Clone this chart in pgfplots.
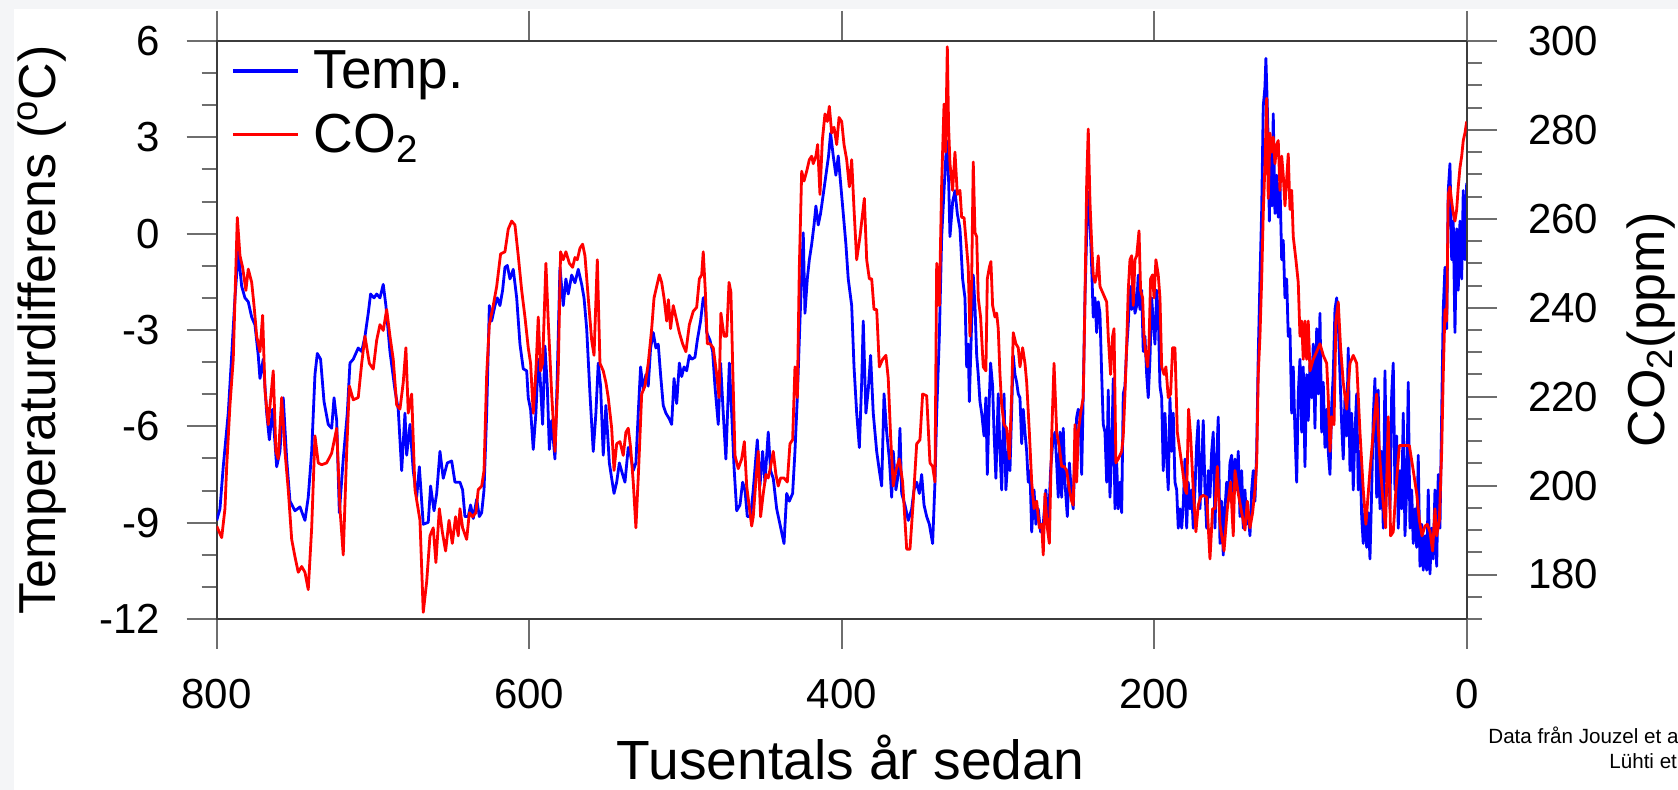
\documentclass[border=0pt]{standalone}
\usepackage{fontspec}
\setmainfont{Liberation Sans}
\usepackage{pgfplots}
\pgfplotsset{compat=1.18}
\definecolor{bggray}{RGB}{244,245,247}
\definecolor{axgray}{RGB}{60,60,60}
\definecolor{tkgray}{RGB}{110,110,110}
\begin{document}
\begin{tikzpicture}
\useasboundingbox (0pt,0pt) rectangle (839pt,395pt);
\fill[bggray] (0pt,0pt) rectangle (839pt,395pt);
\fill[white] (7pt,0pt) rectangle (839pt,390.5pt);
\pgfplotsset{
  common/.style={
    at={(108.35pt,85.5pt)}, anchor=south west,
    scale only axis, width=625pt, height=289pt,
    xmin=0, xmax=800, x dir=reverse,
    tick align=outside,
    major tick length=15pt, minor tick length=7.5pt,
    axis line style={axgray, line width=1pt},
    tick style={tkgray, line width=1pt},
    minor tick style={tkgray, line width=1pt},
    tick label style={font=\fontsize{21}{25}\selectfont},
    /pgf/number format/assume math mode=true,
  }
}
\begin{axis}[common,
  ymin=-12, ymax=6,
  xtick={0,200,400,600,800}, xticklabels={0,200,400,600,800},
  ytick={-12,-9,-6,-3,0,3,6}, yticklabels={-12,-9,-6,-3,0,3,6},
  minor ytick={-12,-11,...,6},
  ytick pos=left, xtick pos=both,
  xticklabel style={anchor=north, inner sep=0pt},
  xticklabel shift=15pt,
  yticklabel style={anchor=east, inner sep=0pt},
  yticklabel shift=13pt,
  xlabel={Tusentals år sedan},
  ylabel={Temperaturdifferens (\textsuperscript{o}C)},
  xlabel style={at={(axis description cs:0.507,-0.278)}, anchor=base, font=\fontsize{27.6}{32}\selectfont},
  ylabel style={at={(axis description cs:-0.1286,0.5)}, anchor=base, font=\fontsize{26}{31}\selectfont},
]
\addplot[blue, line width=1.4pt, line join=round] table {
yr T
800.0 -8.93
797.9 -8.57
795.8 -7.26
792.6 -5.59
790.4 -3.79
788.3 -2.00
786.2 -0.57
784.0 -1.64
781.9 -2.00
779.8 -2.12
777.6 -2.60
775.5 -2.84
773.4 -3.79
772.3 -4.51
770.2 -3.91
768.0 -5.59
766.3 -6.42
764.2 -5.47
761.6 -7.26
759.5 -6.78
757.4 -5.11
755.2 -7.02
753.1 -8.33
749.9 -8.63
746.7 -8.51
743.5 -8.93
741.4 -8.21
739.2 -6.78
737.1 -4.39
735.6 -3.73
733.5 -3.91
731.3 -5.23
728.6 -5.94
726.4 -6.06
724.9 -5.11
723.2 -5.82
721.5 -8.69
719.0 -7.02
716.4 -5.59
714.7 -4.03
712.6 -3.91
709.4 -3.56
707.2 -3.67
705.1 -3.20
703.0 -2.48
701.5 -1.88
699.3 -2.00
697.6 -1.88
695.5 -2.00
693.4 -1.58
691.7 -2.24
689.1 -3.67
685.9 -4.87
683.8 -5.47
681.6 -7.38
679.5 -5.59
678.4 -6.90
676.3 -5.94
674.2 -7.38
672.0 -8.21
670.3 -7.26
667.8 -9.05
664.6 -8.99
663.1 -7.86
660.9 -8.63
659.2 -8.09
657.1 -6.78
655.0 -7.62
652.4 -7.14
649.6 -7.08
647.5 -7.74
644.3 -7.74
642.6 -7.98
641.1 -8.81
639.0 -8.81
637.5 -8.45
635.8 -8.87
633.6 -8.27
631.9 -8.81
630.4 -8.69
628.9 -7.98
627.2 -5.59
625.5 -2.24
624.0 -2.72
621.9 -2.24
620.4 -2.00
618.7 -2.24
617.0 -1.76
615.5 -1.05
614.0 -0.99
612.3 -1.41
610.2 -1.11
608.0 -2.00
605.9 -3.44
603.8 -4.21
601.6 -4.27
600.6 -5.11
599.1 -5.47
597.4 -6.72
595.7 -5.59
594.2 -3.91
593.1 -4.39
591.4 -5.94
589.9 -3.50
588.4 -4.75
587.1 -6.72
585.6 -5.82
583.5 -7.02
582.0 -4.39
580.3 -1.05
578.2 -2.24
576.5 -1.41
575.0 -1.88
572.8 -1.29
570.7 -1.53
568.6 -1.11
566.4 -1.58
564.9 -2.00
563.2 -2.96
561.1 -4.99
559.0 -6.78
557.3 -5.59
555.8 -4.03
554.3 -4.75
552.6 -6.90
550.9 -5.35
548.7 -7.14
547.2 -7.62
545.7 -8.09
544.0 -7.74
542.3 -7.14
540.2 -7.50
538.7 -7.74
536.6 -6.66
535.1 -6.90
533.4 -7.38
531.7 -7.14
530.2 -5.59
528.7 -4.15
527.0 -4.87
525.3 -4.39
523.8 -4.75
522.3 -3.56
520.6 -3.08
518.9 -3.56
517.4 -3.44
515.9 -4.39
514.2 -5.35
512.5 -5.59
510.3 -5.77
508.8 -5.94
507.3 -4.51
505.6 -5.29
503.9 -4.03
502.4 -4.45
500.9 -4.15
499.2 -4.27
497.5 -3.79
496.0 -3.91
493.9 -3.85
492.4 -3.32
490.3 -2.72
488.6 -2.00
487.5 -2.00
486.4 -3.08
484.3 -3.32
482.6 -3.67
481.1 -4.75
479.0 -5.94
477.5 -4.03
475.8 -5.59
474.1 -7.02
471.9 -4.03
470.4 -5.59
468.9 -7.26
467.2 -8.63
465.1 -8.45
463.4 -7.74
461.9 -7.98
460.4 -8.81
458.3 -8.81
456.6 -7.98
454.0 -6.42
452.3 -7.86
450.6 -6.78
449.1 -7.74
447.0 -6.18
445.5 -7.38
443.8 -7.62
441.6 -8.57
439.5 -9.05
436.9 -9.65
435.2 -8.09
433.5 -8.33
431.4 -8.09
429.9 -6.78
428.4 -5.11
426.7 -2.72
424.6 0.03
423.5 -2.48
422.0 -1.41
420.7 -0.81
419.2 -0.33
417.7 0.27
416.5 0.86
415.0 0.27
413.5 0.63
411.8 1.22
410.1 1.82
408.4 2.42
407.1 3.13
405.4 2.42
403.7 1.82
402.2 2.42
400.7 1.58
399.0 0.63
397.3 -0.33
395.8 -1.41
393.6 -2.24
392.1 -4.15
390.4 -5.59
388.7 -6.66
387.2 -4.63
386.2 -2.72
384.5 -5.59
383.0 -4.87
381.5 -3.79
379.8 -5.59
377.6 -6.78
375.9 -7.38
374.4 -7.86
372.9 -4.99
371.2 -6.18
369.5 -7.02
368.0 -8.21
367.0 -6.78
365.3 -7.98
363.8 -7.50
362.7 -6.06
361.6 -8.09
359.5 -8.45
357.4 -8.93
355.2 -8.57
353.7 -7.98
352.0 -7.74
350.3 -8.09
348.8 -7.50
347.3 -8.45
345.6 -8.81
343.9 -9.05
341.8 -9.65
340.3 -7.74
339.2 -5.59
337.5 -3.20
336.0 -0.09
334.5 1.34
332.8 2.89
331.5 1.58
330.7 -0.09
329.0 0.98
327.5 1.34
326.0 0.63
324.3 0.15
322.6 -1.41
321.1 -2.00
320.0 -4.15
319.0 -3.44
318.3 -5.23
316.8 -2.72
315.8 -1.29
314.7 -2.24
313.6 -3.79
312.6 -4.39
311.5 -5.23
310.4 -5.59
308.9 -6.30
307.7 -5.11
306.8 -7.50
305.5 -5.11
304.7 -4.03
303.4 -4.75
302.5 -6.18
301.3 -7.62
299.8 -4.99
298.7 -6.78
297.6 -7.98
296.1 -4.99
294.9 -7.98
293.4 -6.78
292.3 -7.38
291.2 -5.47
290.2 -3.79
289.1 -4.39
288.0 -4.63
287.0 -4.99
285.9 -5.11
284.8 -6.54
283.8 -5.47
282.7 -6.18
281.6 -6.78
280.6 -7.74
279.5 -7.38
278.4 -9.29
276.9 -7.98
275.7 -9.05
274.2 -8.57
272.7 -9.29
271.0 -9.05
269.3 -7.98
267.8 -9.17
266.3 -7.38
265.0 -6.54
263.5 -6.18
262.4 -7.14
261.4 -8.21
260.3 -6.18
259.2 -8.21
258.2 -6.06
257.1 -7.74
255.6 -8.81
254.3 -7.14
252.8 -8.21
251.8 -8.57
250.7 -6.78
249.6 -5.71
248.6 -5.47
247.5 -5.59
246.4 -7.50
245.4 -4.99
244.3 -2.00
243.2 0.00
242.2 1.30
241.1 0.39
240.0 -1.05
239.0 -2.60
237.9 -2.00
236.8 -3.08
235.8 -2.12
234.7 -2.48
233.6 -4.39
232.6 -5.94
231.5 -6.18
230.4 -7.74
229.4 -4.87
228.3 -8.21
227.2 -6.78
226.2 -4.51
225.1 -8.57
224.0 -7.14
223.0 -8.57
221.9 -7.74
220.8 -8.69
219.8 -4.99
218.7 -4.75
217.6 -3.56
216.6 -2.84
215.5 -1.64
214.4 -2.36
213.4 -1.29
212.3 -2.48
211.2 -2.24
210.2 -1.29
209.1 -2.36
208.0 -1.76
207.0 -3.67
205.9 -3.20
204.8 -4.39
203.8 -5.11
202.7 -3.91
201.6 -2.00
200.6 -2.72
199.5 -3.44
198.4 -1.76
197.4 -2.48
196.3 -4.75
195.2 -5.11
194.2 -7.38
193.1 -5.59
192.0 -7.02
191.0 -7.98
189.9 -5.11
188.8 -6.78
187.8 -5.59
186.7 -7.74
185.6 -7.98
184.6 -9.17
183.5 -8.57
182.4 -9.17
181.4 -8.45
180.3 -7.02
179.2 -9.17
178.2 -7.74
177.1 -8.57
176.0 -7.98
175.0 -9.17
173.9 -7.98
172.8 -6.54
171.8 -5.82
170.7 -8.57
169.6 -7.26
168.6 -5.82
167.5 -7.98
166.4 -9.17
165.4 -7.38
164.3 -8.21
163.2 -6.78
162.2 -6.18
161.1 -9.17
160.0 -7.02
159.0 -5.71
157.9 -9.65
156.8 -8.33
155.8 -10.01
154.7 -8.57
153.6 -7.74
152.6 -8.33
151.5 -7.14
150.4 -6.90
149.4 -8.57
148.3 -7.02
147.2 -7.98
146.2 -6.78
145.1 -8.81
144.0 -7.38
143.0 -9.17
141.9 -7.98
140.8 -9.05
139.8 -8.69
138.7 -9.41
137.6 -7.98
136.6 -7.38
135.5 -8.33
134.4 -6.78
133.4 -3.79
132.3 -1.41
131.2 0.74
130.2 3.97
129.1 4.57
128.5 5.46
127.6 3.97
127.0 2.78
126.3 0.39
125.5 2.78
124.6 0.86
123.8 3.73
122.7 0.63
121.6 1.82
120.6 0.51
119.5 1.58
118.4 -0.81
117.4 -0.21
116.3 -2.00
115.2 -1.41
114.2 -3.20
113.1 -2.96
112.0 -5.59
111.0 -4.15
109.9 -6.18
108.8 -7.74
107.8 -4.99
106.7 -3.91
105.6 -6.18
104.6 -4.15
103.5 -7.26
102.4 -4.39
101.4 -5.82
100.3 -4.03
99.2 -5.11
98.2 -3.44
97.1 -6.06
96.0 -2.96
95.0 -4.99
93.9 -2.48
92.8 -6.18
91.8 -4.63
90.7 -6.66
89.6 -5.47
88.6 -6.78
87.5 -7.50
86.4 -5.35
85.4 -4.39
84.3 -2.36
83.2 -2.00
82.2 -2.72
81.1 -4.39
80.0 -5.94
79.0 -7.02
77.9 -5.11
76.8 -6.30
75.8 -3.56
74.7 -7.38
73.6 -5.59
72.6 -7.98
71.5 -6.18
70.4 -4.99
69.4 -7.98
68.3 -6.78
67.2 -8.81
66.2 -9.65
65.1 -8.57
64.0 -9.77
63.0 -8.69
61.9 -10.13
60.8 -7.98
59.8 -5.71
58.7 -4.51
57.6 -8.21
56.6 -4.87
55.5 -8.57
54.4 -6.78
53.4 -9.17
52.3 -4.27
51.2 -7.74
50.2 -5.94
49.1 -8.57
48.0 -4.99
47.0 -4.03
45.9 -7.98
44.8 -6.30
43.8 -9.17
42.7 -7.38
41.6 -8.57
40.6 -5.59
39.5 -9.41
38.4 -7.98
37.4 -4.63
36.3 -9.17
35.2 -7.98
34.2 -9.65
33.1 -8.57
32.0 -9.77
31.0 -6.90
29.9 -10.36
28.8 -9.05
27.8 -10.48
26.7 -9.41
25.6 -10.48
24.6 -7.98
23.5 -10.60
22.4 -9.17
21.4 -10.13
20.3 -7.98
19.2 -10.36
18.2 -7.50
17.1 -9.17
16.0 -5.59
15.0 -2.36
13.9 -1.05
12.8 -2.96
11.8 1.34
10.7 2.18
9.6 -0.81
8.6 0.39
7.5 -3.08
6.4 0.15
5.4 -1.76
4.3 0.39
3.2 -1.41
2.2 1.34
1.1 -0.81
0.0 1.58
};
\end{axis}
\begin{axis}[common,
  ymin=170, ymax=300,
  axis y line*=right, axis x line=none,
  ytick={180,200,220,240,260,280,300}, yticklabels={180,200,220,240,260,280,300},
  minor ytick={170,175,...,300},
  yticklabel style={anchor=west, inner sep=0pt},
  yticklabel shift=15.5pt,
  ylabel={CO\textsubscript{2}(ppm)},
  ylabel style={at={(axis description cs:1.158,0.5)}, anchor=base, font=\fontsize{26}{31}\selectfont},
  legend style={at={(axis description cs:0.0114,0.984)}, anchor=north west, draw=none, fill=none, inner sep=0pt, font=\fontsize{27.5}{32}\selectfont, row sep=11.3pt, column sep=7pt, nodes={inner sep=0pt}},
  legend cell align=left,
  legend image code/.code={\draw[#1] (0pt,0pt) -- (32.5pt,0pt);},
]
\addlegendimage{blue, line width=1.6pt}
\addlegendentry{Temp.}
\addplot[red, line width=1.4pt, line join=round] table {
yr co2
800.0 190.9
796.8 188.3
794.7 194.8
793.6 204.3
791.5 218.1
789.4 228.4
786.8 260.3
785.1 251.7
783.4 249.1
781.3 243.9
779.8 248.7
777.6 245.7
776.1 240.5
774.4 233.6
772.3 230.1
770.6 238.3
769.1 221.5
767.0 213.7
763.8 225.8
762.1 207.7
760.6 206.0
758.4 219.8
756.3 207.7
754.2 199.1
752.0 187.9
749.9 184.0
747.8 180.5
745.6 181.8
743.5 180.5
741.4 176.6
739.2 190.5
737.1 211.2
735.0 205.1
732.8 204.7
729.6 205.1
726.4 207.3
723.2 212.9
721.1 194.8
719.0 184.4
716.8 207.7
715.1 222.4
712.6 219.3
709.4 219.8
707.2 227.5
705.1 233.6
702.3 227.5
699.8 226.2
697.6 232.7
695.5 236.2
693.4 234.9
691.2 239.6
689.1 233.6
687.0 228.4
684.8 218.1
682.7 217.2
680.6 223.2
678.9 231.0
677.4 216.3
675.2 220.6
673.1 199.1
669.9 192.2
667.8 171.5
665.6 178.4
663.5 188.7
661.4 190.5
659.7 182.7
657.5 194.8
655.6 189.6
653.5 185.3
651.3 192.2
649.2 187.0
647.1 193.0
645.4 188.7
644.3 194.8
642.6 190.5
640.0 187.9
638.3 193.9
636.2 193.0
634.1 193.9
632.6 199.1
630.4 199.9
628.9 203.4
627.2 225.0
625.5 236.2
623.0 240.5
620.8 244.8
618.3 252.1
615.5 252.6
613.4 257.7
611.2 259.5
609.1 258.6
607.0 251.7
604.8 243.9
602.7 237.9
600.6 231.0
599.1 227.5
597.4 216.3
595.7 225.8
594.2 237.9
592.7 225.8
591.4 227.5
589.3 250.0
587.8 237.0
585.6 220.6
583.5 207.7
581.4 225.8
579.9 252.6
578.2 250.8
576.5 252.6
574.3 250.0
572.2 249.1
570.7 251.3
569.2 250.8
567.5 253.4
565.8 254.3
564.3 251.7
562.2 242.2
560.0 232.7
558.5 229.3
556.4 250.8
554.7 227.5
552.6 225.8
550.9 223.2
549.4 219.8
547.2 212.9
545.7 203.4
544.0 209.4
541.9 209.9
539.8 206.8
538.1 212.0
536.6 212.9
535.1 208.6
533.4 200.8
531.7 190.5
530.0 203.4
528.0 220.6
525.9 222.4
523.8 227.5
521.6 235.3
520.1 242.2
518.4 244.8
516.7 247.4
515.2 245.7
513.7 242.2
512.0 237.0
510.9 241.8
509.5 235.3
507.8 240.5
506.1 237.9
503.9 234.4
501.8 231.9
499.7 230.1
497.5 236.2
495.0 239.2
492.8 240.1
491.1 246.5
489.6 247.4
488.6 252.6
487.3 243.9
486.0 231.9
484.3 231.9
482.2 231.0
480.0 225.0
478.5 219.8
477.3 238.8
475.3 233.6
473.6 233.6
472.1 245.7
470.9 243.5
469.8 227.5
468.3 206.8
466.2 203.8
464.0 206.0
462.3 209.9
460.8 199.9
458.7 193.9
457.6 190.9
456.6 193.0
454.9 201.2
453.4 207.7
451.9 193.0
450.2 198.2
448.5 202.5
447.0 201.7
445.5 204.3
443.8 207.7
442.1 202.5
440.6 199.9
439.1 201.7
436.9 201.7
434.8 200.8
433.1 209.4
431.4 210.3
429.9 226.7
428.4 219.8
427.1 249.1
425.6 270.7
424.1 268.5
422.4 270.7
420.7 273.3
419.2 274.1
418.2 272.4
416.5 274.1
415.4 276.7
413.9 265.5
412.4 277.6
410.7 283.6
409.2 281.9
407.9 285.3
406.4 279.3
404.9 280.6
403.2 276.7
401.7 282.8
400.0 281.9
398.5 276.7
396.8 273.3
395.1 267.2
393.6 273.3
392.1 262.1
390.4 250.8
388.3 256.0
385.5 264.6
384.0 250.8
382.3 246.5
380.8 246.5
379.3 239.6
377.6 239.6
375.9 226.7
373.8 228.4
371.7 229.3
370.2 224.1
368.7 211.2
367.0 199.9
365.3 203.4
363.1 206.0
361.0 200.8
358.4 185.7
356.3 185.7
354.2 196.5
352.0 209.4
349.9 210.3
348.2 220.6
345.6 220.2
343.5 205.1
341.8 204.3
340.3 200.8
339.2 250.0
337.5 240.5
336.0 268.1
334.5 285.8
333.5 275.0
332.4 298.7
331.6 281.0
330.7 272.4
329.0 266.4
327.5 275.0
326.0 265.5
324.3 266.4
323.2 260.3
321.7 260.3
320.0 253.4
319.0 249.1
317.9 233.6
316.8 246.5
315.8 272.8
314.7 256.9
313.6 256.0
312.6 242.2
311.1 237.9
309.4 226.7
307.7 225.8
306.8 246.5
305.5 249.1
304.5 250.4
303.4 240.5
301.9 237.9
300.8 238.8
299.8 235.3
298.7 225.0
297.6 218.1
296.1 213.7
294.4 212.9
292.7 206.0
291.2 220.6
290.2 234.4
288.5 231.9
287.0 231.0
285.9 226.7
284.2 231.0
282.7 227.5
281.6 223.2
279.9 212.0
278.4 200.8
276.9 194.8
275.2 196.5
273.5 190.5
272.0 191.3
271.0 184.4
269.9 198.2
268.4 190.5
267.1 187.0
265.6 211.2
264.1 227.5
262.4 212.0
260.7 208.6
259.2 204.3
257.7 204.3
256.0 203.4
254.3 199.1
252.8 196.5
251.8 195.6
250.7 213.7
249.6 200.8
248.6 212.0
247.1 216.3
245.4 219.8
244.3 242.2
243.2 268.1
242.2 280.2
241.1 263.8
240.0 254.3
239.0 247.4
237.9 245.7
236.8 247.4
235.8 251.7
234.7 244.8
232.6 243.1
230.4 241.3
229.4 233.6
227.9 225.0
226.6 233.6
225.7 235.3
224.5 205.1
223.0 206.0
220.8 207.7
219.8 211.2
218.7 220.6
217.6 231.9
216.6 243.9
215.5 250.8
214.4 251.7
213.4 240.5
212.3 250.8
211.2 251.7
209.7 257.3
208.7 243.9
207.4 242.2
206.5 233.6
205.3 229.3
204.2 226.7
203.3 231.9
202.3 246.5
201.0 247.4
200.1 242.2
198.9 250.8
197.4 247.4
196.3 242.2
195.2 226.7
193.7 225.0
192.5 226.7
191.0 219.8
189.5 220.6
188.2 231.0
186.7 231.0
185.2 212.0
183.5 207.7
181.8 203.4
180.3 199.1
179.2 198.2
178.0 217.2
176.7 211.2
175.0 199.1
173.3 189.6
171.8 195.6
170.3 197.4
168.6 197.8
166.4 197.4
164.3 183.5
162.6 194.8
161.1 194.8
159.6 204.3
157.9 191.3
155.3 185.3
153.2 194.8
151.1 200.8
149.4 188.7
148.3 203.4
146.2 198.2
144.0 193.9
141.9 190.0
140.4 196.5
138.7 190.5
137.0 193.9
135.5 199.1
134.4 205.1
133.4 225.0
132.3 233.6
131.2 246.5
130.2 261.2
129.1 272.4
128.0 287.1
127.0 264.6
125.9 279.3
124.8 275.0
123.8 278.4
122.7 272.4
121.6 276.7
120.6 277.6
119.5 266.4
118.4 274.1
117.4 269.8
116.3 262.9
115.2 269.0
114.2 274.6
113.1 262.1
112.0 266.4
111.0 256.0
109.3 250.8
107.8 245.7
106.7 233.6
105.6 237.0
104.6 228.4
103.5 237.0
102.4 228.4
101.4 237.0
100.3 225.8
98.2 228.4
96.0 230.1
93.9 231.9
91.8 229.3
89.6 227.5
88.6 219.8
87.5 207.7
86.4 215.5
84.9 213.7
83.7 237.0
82.2 241.3
80.7 231.0
79.0 223.2
76.8 217.2
74.7 227.5
72.6 229.3
70.4 227.5
68.3 212.0
66.2 199.1
64.5 191.3
61.9 203.4
59.8 212.0
57.6 220.6
55.9 207.7
53.8 197.4
51.9 190.5
50.2 215.5
48.7 188.7
47.0 189.6
45.3 199.1
43.1 209.0
40.6 209.0
36.7 209.0
34.2 203.4
32.0 198.2
30.3 192.2
28.6 188.7
26.7 190.9
25.2 191.3
23.5 189.6
21.8 185.3
20.3 194.8
19.2 188.7
17.5 192.2
16.0 207.7
15.0 225.0
13.9 239.6
12.8 237.0
11.8 265.5
10.7 267.2
9.6 263.8
8.6 261.2
7.5 259.5
6.4 262.1
5.4 267.2
4.3 271.5
3.2 274.1
2.2 277.6
1.1 279.3
0.0 281.9
};
\addlegendentry{CO\textsubscript{2}}
\end{axis}
\node[anchor=base west, font=\fontsize{10.3}{12}\selectfont, inner sep=0pt] at (744pt,23pt) {Data från Jouzel et al. (2007)};
\node[anchor=base west, font=\fontsize{10.3}{12}\selectfont, inner sep=0pt] at (804.5pt,10.5pt) {Lühti et al. (2008)};
\end{tikzpicture}
\end{document}
